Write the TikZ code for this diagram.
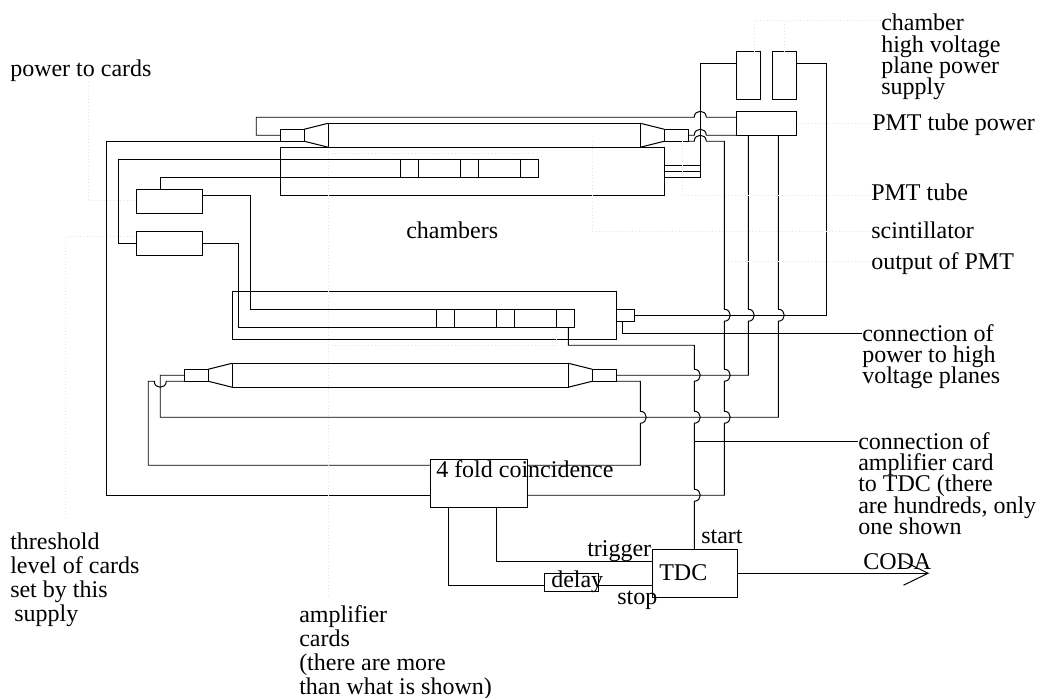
\documentclass[tikz,border=0pt]{standalone}
\usepackage{fontspec}
\setmainfont{Liberation Serif}
\usetikzlibrary{arrows.meta}
\lineskiplimit=-6pt
% bump of a vertical wire over a horizontal one (x, y of the crossing)
\newcommand{\hopv}[2]{-- (#1,#2-6) .. controls +(8,0) and +(8,0) .. (#1,#2+6)}
% bump of a horizontal wire over a vertical one
\newcommand{\hoph}[2]{-- (#1-6,#2) .. controls +(0,-8) and +(0,-8) .. (#1+6,#2)}
\begin{document}
\begin{tikzpicture}[
    x=0.75pt, y=-0.75pt, line width=0.74pt,
    wbox/.style={draw, inner sep=0pt, outer sep=0pt},
    wh/.style 2 args={minimum width=#1*0.75pt, minimum height=#2*0.75pt},
    lbl/.style={inner sep=0pt, outer sep=0pt, anchor=base west, font=\fontsize{18}{18}\selectfont},
    note/.style={inner sep=0pt, outer sep=0pt, anchor=north west, align=left, font=\fontsize{18}{16}\selectfont},
    wnote/.style={note, font=\fontsize{18}{18}\selectfont},
    leader/.style={draw=black!11, line width=0.5pt, dotted},
  ]
  \useasboundingbox (0,0) rectangle (1040,698);
  \begin{scope}[xshift=0.19pt, yshift=-0.19pt]
  % Upper tube and its PMTs
  \node[wbox, wh={312}{24}] (tubeU) at (484,135) {};
  \node[wbox, wh={24}{12}] (pmtUL) at (292,135) {};
  \node[wbox, wh={24}{12}] (pmtUR) at (676,135) {};
  \draw (pmtUL.north east) -- (tubeU.north west);
  \draw (pmtUL.south east) -- (tubeU.south west);
  \draw (pmtUR.north west) -- (tubeU.north east);
  \draw (pmtUR.south west) -- (tubeU.south east);
  % Lower tube and its PMTs
  \node[wbox, wh={336}{24}] (tubeL) at (400,375) {};
  \node[wbox, wh={24}{12}] (pmtLL) at (196,375) {};
  \node[wbox, wh={24}{12}] (pmtLR) at (604,375) {};
  \draw (pmtLL.north east) -- (tubeL.north west);
  \draw (pmtLL.south east) -- (tubeL.south west);
  \draw (pmtLR.north west) -- (tubeL.north east);
  \draw (pmtLR.south west) -- (tubeL.south east);
  % Chambers and the amplifier cards on them
  \node[wbox, wh={384}{48}] (chamberU) at (472,171) {};
  \node[wbox, wh={384}{48}] (chamberL) at (424,315) {};
  \node[wbox, wh={18}{18}] (cardUa) at (409,168) {};
  \node[wbox, wh={18}{18}] (cardUb) at (469,168) {};
  \node[wbox, wh={18}{18}] (cardUc) at (529,168) {};
  \node[wbox, wh={18}{18}] (cardLa) at (445,318) {};
  \node[wbox, wh={18}{18}] (cardLb) at (505,318) {};
  \node[wbox, wh={18}{18}] (cardLc) at (565,318) {};
  \node[wbox, wh={18}{12}] (plug) at (625,315) {};
  % Supplies
  \node[wbox, wh={66}{24}] (cardPower) at (169,201) {};
  \node[wbox, wh={66}{24}] (threshold) at (169,243) {};
  \node[wbox, wh={24}{48}] (hvA) at (748,75) {};
  \node[wbox, wh={24}{48}] (hvB) at (784,75) {};
  \node[wbox, wh={60}{24}] (pmtPower) at (766,123) {};
  % Trigger logic
  \node[wbox, wh={97}{48}] (coinc) at (478.5,483) {};
  \node[wbox, wh={85}{48}] (tdc) at (694.5,573) {};
  \node[wbox, wh={54}{18}] (delayBox) at (571,582) {};
  % Labels
  \node[lbl] (powerLbl) at (10,76) {power to cards};
  \node[note] (hvLbl) at (881,14) {chamber\\high voltage\\plane power\\supply};
  \node[lbl] (tubePowerLbl) at (872,130) {PMT tube power};
  \node[lbl] (tubeLbl) at (871,200) {PMT tube};
  \node[lbl] (scintLbl) at (871,238) {scintillator};
  \node[lbl] (outLbl) at (871,269) {output of PMT};
  \node[lbl] (chambersLbl) at (406,238) {chambers};
  \node[note] (planeLbl) at (862,324) {connection of\\power to high\\voltage planes};
  \node[note] (ampLbl) at (858,432) {connection of\\amplifier card\\to TDC (there\\are hundreds, only\\one shown};
  \node[wnote] (threshLbl) at (10,533) {threshold\\level of cards\\set by this\\ \,supply};
  \node[wnote] (cardsLbl) at (299,605) {amplifier\\cards\\(there are more\\than what is shown)};
  \node[lbl] (coincLbl) at (436,477) {4 fold coincidence};
  \node[lbl] (tdcLbl) at (659,580) {TDC};
  \node[lbl] (startLbl) at (701,543) {start};
  \node[lbl] (triggerLbl) at (587,556) {trigger};
  \node[lbl] (delayLbl) at (551,587) {delay};
  \node[lbl] (stopLbl) at (617,604) {stop};
  \node[lbl] (codaLbl) at (863,569) {CODA};
  % Wire corners
  \coordinate (wireA) at (256,117);
  \coordinate (wireB) at (106,495);
  \coordinate (wireC) at (118,159);
  \coordinate (wireD) at (160,177);
  \coordinate (wireE) at (250,195);
  \coordinate (wireF) at (238,243);
  \coordinate (wireG) at (568,345);
  \coordinate (wireH) at (694,345);
  \coordinate (wireI) at (694,441);
  \coordinate (wireJ) at (826,63);
  \coordinate (wireK) at (622,333);
  \coordinate (wireL) at (700,63);
  \coordinate (wireM) at (664,177);
  \coordinate (wireN) at (724,141);
  \coordinate (wireO) at (724,495);
  \coordinate (wireP) at (748,375);
  \coordinate (wireQ) at (778,417);
  \coordinate (wireR) at (160,417);
  \coordinate (wireS) at (148,381);
  \coordinate (wireT) at (640,381);
  \coordinate (wireU) at (640,465);
  \coordinate (wireV) at (148,465);
  \coordinate (wireW) at (496,561);
  \coordinate (wireX) at (448,585);
  \coordinate (codaTip) at (929,573);
  % Wires of the upper tube
  \draw (pmtUL.west) -| (wireA) \hoph{700}{117} -- (pmtPower.west |- wireA);
  \draw (pmtUL.south west) -| (wireB) -- (coinc.west |- wireB);
  \draw (pmtUR.east) \hoph{700}{135} -- (pmtPower.south west);
  \draw (pmtUR.south east) \hoph{700}{141} -- (wireN) \hopv{724}{315} \hopv{724}{375} \hopv{724}{417} -- (wireO) -- (coinc.east |- wireO);
  % Wires of the cards
  \draw (threshold.west) -| (wireC) -- (cardUc.north west);
  \draw (wireD |- cardPower.north) -- (wireD) -- (cardUc.south east);
  \draw (cardPower.east |- wireE) -- (wireE) |- (cardLc.north west);
  \draw (threshold.east) -- (wireF) |- (cardLc.south east);
  \draw (wireG |- cardLc.south) -- (wireG) -- (wireH) \hopv{694}{375} \hopv{694}{417} \hopv{694}{495} -- (wireH |- tdc.north);
  \draw (wireI) -- (ampLbl.west |- wireI);
  % High voltage
  \draw (plug.east) -| (wireJ) -- (hvB.east |- wireJ);
  \draw (wireK |- plug.south) -- (wireK) -- (planeLbl.west |- wireK);
  \draw (hvA.west |- wireL) -- (wireL) |- (wireM);
  \foreach \y in {165,171}
    \draw (wireM |- 0,\y) -- (wireL |- 0,\y);
  % Wires of the lower tube
  \draw (wireP |- pmtPower.south) \hopv{748}{315} -- (wireP) -- (pmtLR.east);
  \draw (wireQ |- pmtPower.south) \hopv{778}{315} -- (wireQ) -- (wireR) |- (pmtLL.west);
  \draw (pmtLL.south west) -- (166,381) .. controls +(0,8) and +(0,8) .. (154,381) -- (wireS) -- (wireV) -- (coinc.west |- wireV);
  \draw (pmtLR.south east) -- (wireT) \hopv{640}{417} -- (wireU) -- (coinc.east |- wireU);
  % Trigger and stop
  \draw (wireW |- coinc.south) -- (wireW) -- (wireW -| tdc.west);
  \draw (wireX |- coinc.south) -- (wireX) -- (delayBox.west |- wireX);
  \draw (delayBox.east |- wireX) -- (wireX -| tdc.west);
  \draw[-{Straight Barb[length=18.5pt, width=18pt]}] (tdc.east) -- (codaTip);
  % Faint leaders
  \draw[leader] (88,82) |- (cardPower.west |- 0,200);
  \draw[leader] (65,518) |- (threshold.west |- 0,236);
  \draw[leader] (328,595) -- (328,147);
  \draw[leader] (328,153) -- (533,153);
  \draw[leader] (328,345) -| (556,327);
  \draw[leader] (682,141) |- (tubeLbl.west |- 0,195);
  \draw[leader] (592,141) |- (scintLbl.west |- 0,231);
  \draw[leader] (728,261) -- (outLbl.west |- 0,261);
  \draw[leader] (798,123) -- (tubePowerLbl.west |- 0,123);
  \draw[leader] (754,51) |- (hvLbl.west |- 0,20);
  \draw[leader] (784,51) -- (784,20);
  \end{scope}
\end{tikzpicture}
\end{document}
